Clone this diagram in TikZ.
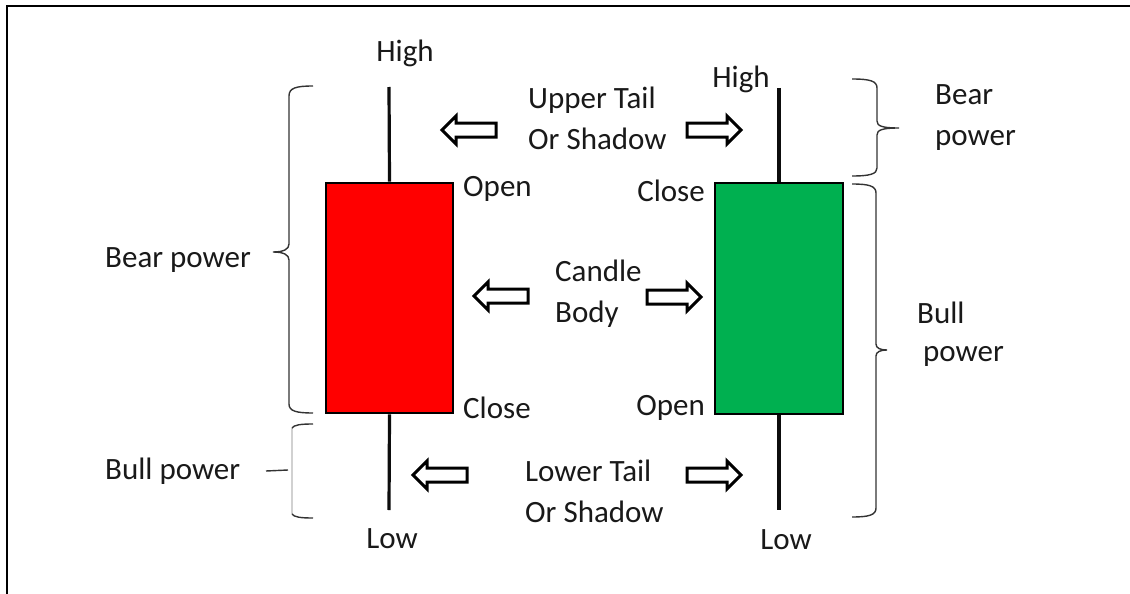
\documentclass[tikz,border=0pt]{standalone}
\usepackage{fontspec}
\setmainfont{Carlito}
\definecolor{bodyred}{RGB}{255,0,0}
\definecolor{bodygreen}{RGB}{0,176,80}
\definecolor{ink}{RGB}{25,25,25}
\tikzset{
  lbl/.style={inner sep=0pt, text=ink, font=\fontsize{31pt}{41pt}\selectfont, align=left},
  candlebody/.style={draw=black, line width=2.8pt, minimum width=127pt, minimum height=230pt, inner sep=0pt},
  wick/.style={draw=black!95, line width=3.2pt},
  bracel/.style={draw=black!80, line width=1.4pt},
  faintbrace/.style={draw=black!18, line width=1.2pt},
  arrowline/.style={draw=black, line width=3pt, fill=white, line join=miter},
  blockarrow/.pic={\path[arrowline] (0,-7) -- (40,-7) -- (40,-14) -- (54,0) -- (40,14) -- (40,7) -- (0,7) -- cycle;}
}
\begin{document}
\begin{tikzpicture}[x=1pt,y=-1pt]
\useasboundingbox (0,0) rectangle (1130,594);
\fill[white] (0,0) rectangle (1130,594);
% frame
\draw[line width=2.2pt, black] (7,594) -- (7,6) -- (1130,6);

% candle bodies
\node[candlebody, fill=bodyred] (rb) at (389.5,298) {};
\node[candlebody, fill=bodygreen, minimum width=128pt, minimum height=231pt] (gb) at (779,298.5) {};

% wick ends
\coordinate (rhigh) at (389,87);
\coordinate (rlow) at (389,510);
\coordinate (ghigh) at (779,88);
\coordinate (glow) at (779,510);
\draw[wick] (rhigh) -- (rb.north);
\draw[wick] (rb.south) -- (rlow);
\draw[wick] (ghigh) -- (gb.north);
\draw[wick] (gb.south) -- (glow);

% labels of the red candle
\node[lbl] (hl) at (405,53) {High};
\node[lbl, anchor=west] (ol) at (463,189) {Open};
\node[lbl, anchor=west] (cl) at (463,408) {Close};
\node[lbl] (ll) at (392,539) {Low};

% labels of the green candle
\node[lbl] (hr) at (741,79) {High};
\node[lbl, anchor=east] (cr) at (705,191) {Close};
\node[lbl, anchor=east] (orr) at (705,408) {Open};
\node[lbl] (lr) at (786,540) {Low};

% middle labels
\node[lbl, anchor=west] (ut) at (528,118) {Upper Tail\\Or Shadow};
\node[lbl, anchor=west] (cb) at (555,294) {Candle\\Body};
\node[lbl, anchor=west] (lt) at (525,491) {Lower Tail\\Or Shadow};

% block arrows
\pic[xscale=-1] at (496,130) {blockarrow};
\pic at (687,130) {blockarrow};
\pic[xscale=-1] at (528,296) {blockarrow};
\pic at (647,297) {blockarrow};
\pic[xscale=-1] at (467,475) {blockarrow};
\pic at (687,475) {blockarrow};

% side labels
\node[lbl, anchor=west] (bearl) at (105,260) {Bear power};
\node[lbl, anchor=west] (bulll) at (105,471) {Bull power};
\node[lbl, anchor=west] (bearr) at (935,118) {Bear\\power};
\node[lbl, anchor=west] (bullr1) at (917,313) {Bull};
\node[lbl, anchor=west] (bullr2) at (923,356) {power};

% left upper brace
\draw[bracel] (313,86) .. controls (296,86) and (289,88) .. (289,96) -- (289,244)
  .. controls (289,249) and (284,252) .. (273,252)
  .. controls (284,252) and (289,255) .. (289,260) -- (289,404)
  .. controls (289,411) and (296,413) .. (313,413);
% left lower brace (faint spine)
\draw[faintbrace] (292,428) -- (292,514);
\draw[bracel] (313,424) .. controls (300,424) and (294,425) .. (292,428);
\draw[bracel] (313,518) .. controls (300,518) and (294,517) .. (292,514);
\draw[bracel] (266,471) -- (288,470);
% right upper brace
\draw[bracel] (852,79) .. controls (870,79) and (877,81) .. (877,88) -- (877,121)
  .. controls (877,126) and (882,128) .. (899,128)
  .. controls (882,128) and (877,130) .. (877,135) -- (877,168)
  .. controls (877,174) and (870,176) .. (852,176);
% right lower brace
\draw[bracel] (852,184) .. controls (869,184) and (876,186) .. (876,193) -- (876,344)
  .. controls (876,348) and (880,350) .. (887,350)
  .. controls (880,350) and (876,352) .. (876,356) -- (876,508)
  .. controls (876,515) and (869,517) .. (852,517);
\end{tikzpicture}
\end{document}
